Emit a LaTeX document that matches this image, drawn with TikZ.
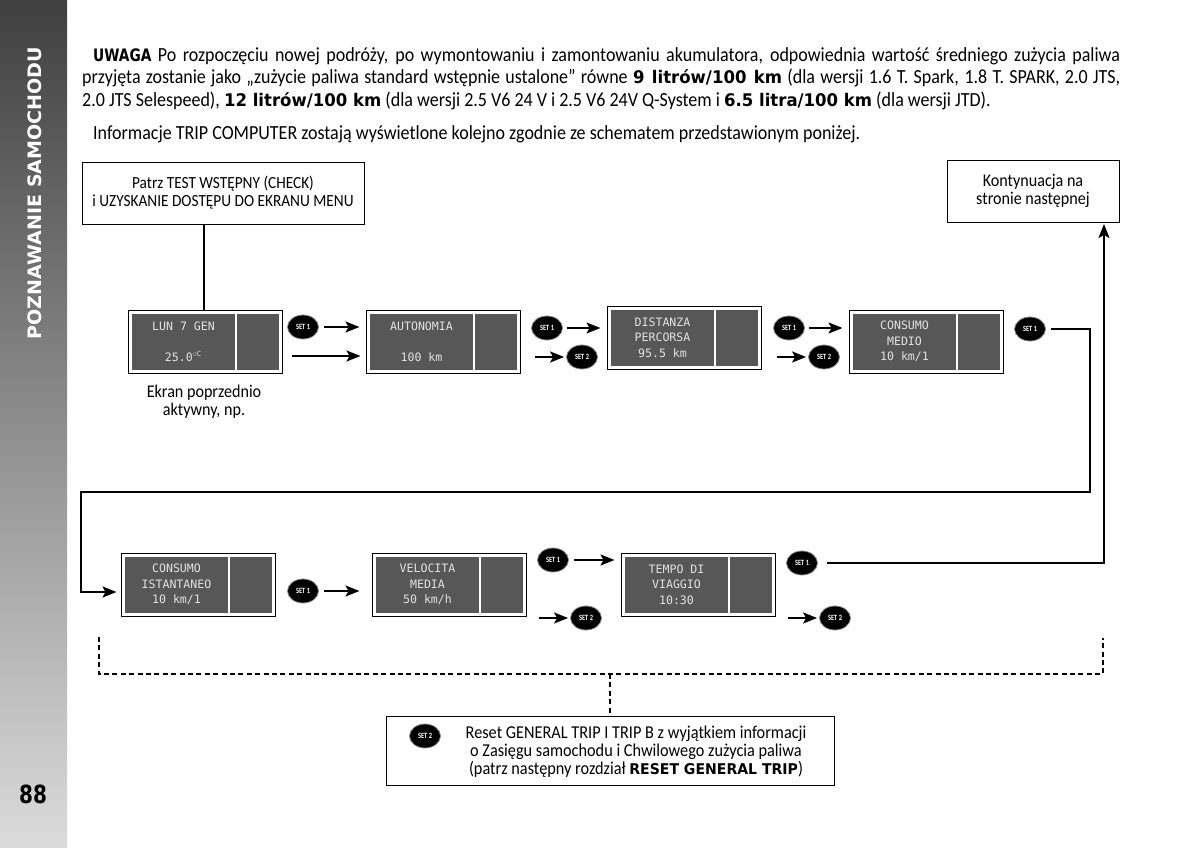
\documentclass[tikz,border=0pt]{standalone}
\usepackage{fontspec}
\setmainfont{Carlito}[FakeStretch=0.9]
\newfontfamily\hvyfont{DejaVu Sans}[FakeStretch=0.95]
\newfontfamily\sidefont{DejaVu Sans}[FakeStretch=1.03]
\newfontfamily\numfont{DejaVu Sans}[FakeStretch=0.8]
\newfontfamily\lcdfont{DejaVu Sans Mono}
\newfontfamily\badgefont{Carlito}[FakeStretch=0.8]
\usetikzlibrary{calc,shapes.geometric,arrows.meta}

\definecolor{dispgray}{HTML}{575757}
\definecolor{lcdtext}{HTML}{E2E2E2}

\newcommand{\hv}[2][17.4]{{\hvyfont\bfseries\fontsize{#1}{22}\selectfont #2}}

\tikzset{
  textbox/.style={draw=black,line width=1pt,align=center,inner sep=0pt},
  screen/.style={draw=black,fill=white,line width=1pt,minimum width=154,minimum height=63,inner sep=0pt},
  lcd/.style={text=lcdtext,align=center,inner sep=0pt,font=\lcdfont\fontsize{11.6}{15.3}\selectfont},
  setbadge/.style={ellipse,draw=black!45,fill=black,line width=0.8pt,minimum width=31,minimum height=24,inner sep=0pt,text=white,font=\badgefont\bfseries\fontsize{8}{8}\selectfont},
  link/.style={line width=2pt},
  arr/.style={line width=2pt,-{Stealth[length=14pt,width=11pt,inset=3pt]}},
  dashlink/.style={line width=1.8pt,dash pattern=on 5pt off 3.4pt},
}

% one display: frame, two grey panes and its text
\newcommand{\screenbox}[3]{
  \node[screen] (#1) at (#2) {};
  \fill[dispgray] ($(#1.north west)+(4,4)$) rectangle ($(#1.south west)+(107,-4)$);
  \fill[dispgray] ($(#1.north west)+(109,4)$) rectangle ($(#1.south east)+(-4,-4)$);
  \node[lcd] (#1text) at ($(#1.center)+(-21.5,0)$) {#3};
}

\begin{document}
\begin{tikzpicture}[x=1pt,y=-1pt]
\useasboundingbox (0,0) rectangle (1200,847);

% the page and the side strip
\fill[white] (0,0) rectangle (1200,847);
\shade[top color=black!75,bottom color=black!14] (0,0) rectangle (67,847);
\node[rotate=90,text=white,inner sep=0pt,font=\sidefont\bfseries\fontsize{18.5}{18.5}\selectfont] (sidetitle) at (35,193) {POZNAWANIE SAMOCHODU};
\node[inner sep=0pt,font=\numfont\bfseries\fontsize{25}{25}\selectfont] (pagenum) at (33,794) {88};

% the notes on top
\node[anchor=north west,inner sep=0pt,text width=1038,align=justify,font=\fontsize{20}{22.5}\selectfont] (note) at (82,47) {\hspace*{11pt}{\numfont\bfseries\fontsize{17.2}{22}\selectfont UWAGA} Po rozpoczęciu nowej podróży, po wymontowaniu i zamontowaniu akumulatora, odpowiednia wartość średniego zużycia paliwa\linebreak
przyjęta zostanie jako „zużycie paliwa standard wstępnie ustalone” równe \hv{9 litrów/100 km} (dla wersji 1.6 T. Spark, 1.8 T. SPARK, 2.0 JTS,\linebreak
2.0 JTS Selespeed), \hv{12 litrów/100 km} (dla wersji 2.5 V6 24 V i 2.5 V6 24V Q-System i \hv{6.5 litra/100 km} (dla wersji JTD).};
\node[anchor=north west,inner sep=0pt,font=\fontsize{20}{22}\selectfont] (info) at (93,125) {Informacje TRIP COMPUTER zostają wyświetlone kolejno zgodnie ze schematem przedstawionym poniżej.};

% boxes with text
\node[textbox,minimum width=282,minimum height=62,font=\fontsize{17}{18}\selectfont] (check) at (223,193) {Patrz TEST WSTĘPNY (CHECK)\\i UZYSKANIE DOSTĘPU DO EKRANU MENU};
\node[textbox,minimum width=172,minimum height=62,font=\fontsize{17.9}{18}\selectfont] (next) at (1033,191) {Kontynuacja na\\stronie następnej};
\node[textbox,minimum width=448,minimum height=69] (reset) at (610,750.5) {};
\node[inner sep=0pt,align=center,font=\fontsize{18.1}{18}\selectfont] (resettext) at (636,751.5) {Reset GENERAL TRIP I TRIP B z wyjątkiem informacji\\o Zasięgu samochodu i Chwilowego zużycia paliwa\\(patrz następny rozdział \hv[14.8]{RESET GENERAL TRIP})};
\node[inner sep=0pt,align=center,font=\fontsize{17.9}{18}\selectfont] (prev) at (204,402) {Ekran poprzednio\\aktywny, np.};

% the displays
\screenbox{lun}{205,341.5}{LUN 7 GEN\\[15.3pt]25.0$^{\circ\mathrm{C}}$}
\screenbox{auton}{443,341.5}{AUTONOMIA\\[15.3pt]100 km}
\screenbox{dist}{684,337.5}{DISTANZA\\PERCORSA\\95.5 km}
\screenbox{medio}{926,341.5}{CONSUMO\\MEDIO\\10 km/1}
\screenbox{istant}{198,584.5}{CONSUMO\\ISTANTANEO\\10 km/1}
\screenbox{veloc}{449,584.5}{VELOCITA\\MEDIA\\50 km/h}
\screenbox{tempo}{698,584.5}{TEMPO DI\\VIAGGIO\\10:30}

% the buttons
\node[setbadge] (a1) at (303,327) {SET 1};
\node[setbadge] (b1) at (547,328) {SET 1};
\node[setbadge] (b2) at (582,357) {SET 2};
\node[setbadge] (c1) at (789,328) {SET 1};
\node[setbadge] (c2) at (824,357) {SET 2};
\node[setbadge] (d1) at (1030,329) {SET 1};
\node[setbadge] (e1) at (303,591) {SET 1};
\node[setbadge] (f1) at (553,560) {SET 1};
\node[setbadge] (f2) at (586,618) {SET 2};
\node[setbadge] (g1) at (802,563) {SET 1};
\node[setbadge] (g2) at (835,618) {SET 2};
\node[setbadge] (r2) at (425,736) {SET 2};

% arrows along the rows
\draw[link] (check.south -| 204,0) -- (lun.north -| 204,0);
\draw[arr] ([xshift=5]a1.east) -- ([xshift=-6]auton.west |- a1);
\draw[arr] ([xshift=9,yshift=-14.5]lun.east) -- ([xshift=-5,yshift=-14.5]auton.west);
\draw[arr] ([xshift=4]b1.east) -- ([xshift=-6]dist.west |- b1);
\draw[arr] ([xshift=-31]b2.west) -- ([xshift=-2]b2.west);
\draw[arr] ([xshift=4]c1.east) -- ([xshift=-6]medio.west |- c1);
\draw[arr] ([xshift=-31]c2.west) -- ([xshift=-2]c2.west);
\draw[arr] ([xshift=5]e1.east) -- ([xshift=-12]veloc.west |- e1);
\draw[arr] ([xshift=5]f1.east) -- ([xshift=-6]tempo.west |- f1);
\draw[arr] ([xshift=-31]f2.west) -- ([xshift=-2]f2.west);
\draw[arr] ([xshift=-31]g2.west) -- ([xshift=-2]g2.west);

% the long returns
\coordinate (turn) at (1090,492);
\coordinate (back) at (81,492);
\draw[arr] ([xshift=5]d1.east) -| (turn) -- (back) |- ([xshift=-4,yshift=-7.5]istant.west);
\draw[arr] ([xshift=9]g1.east) -| ([yshift=-1.5]next.south -| 1104,0);

% the dashed bracket
\coordinate (brleft) at (99,637);
\coordinate (brright) at (1103,638);
\coordinate (brmid) at (610,674);
\draw[dashlink] (brleft) |- (brmid) -| (brright);
\draw[dashlink] (brmid) -- (reset.north -| brmid);

\end{tikzpicture}
\end{document}
